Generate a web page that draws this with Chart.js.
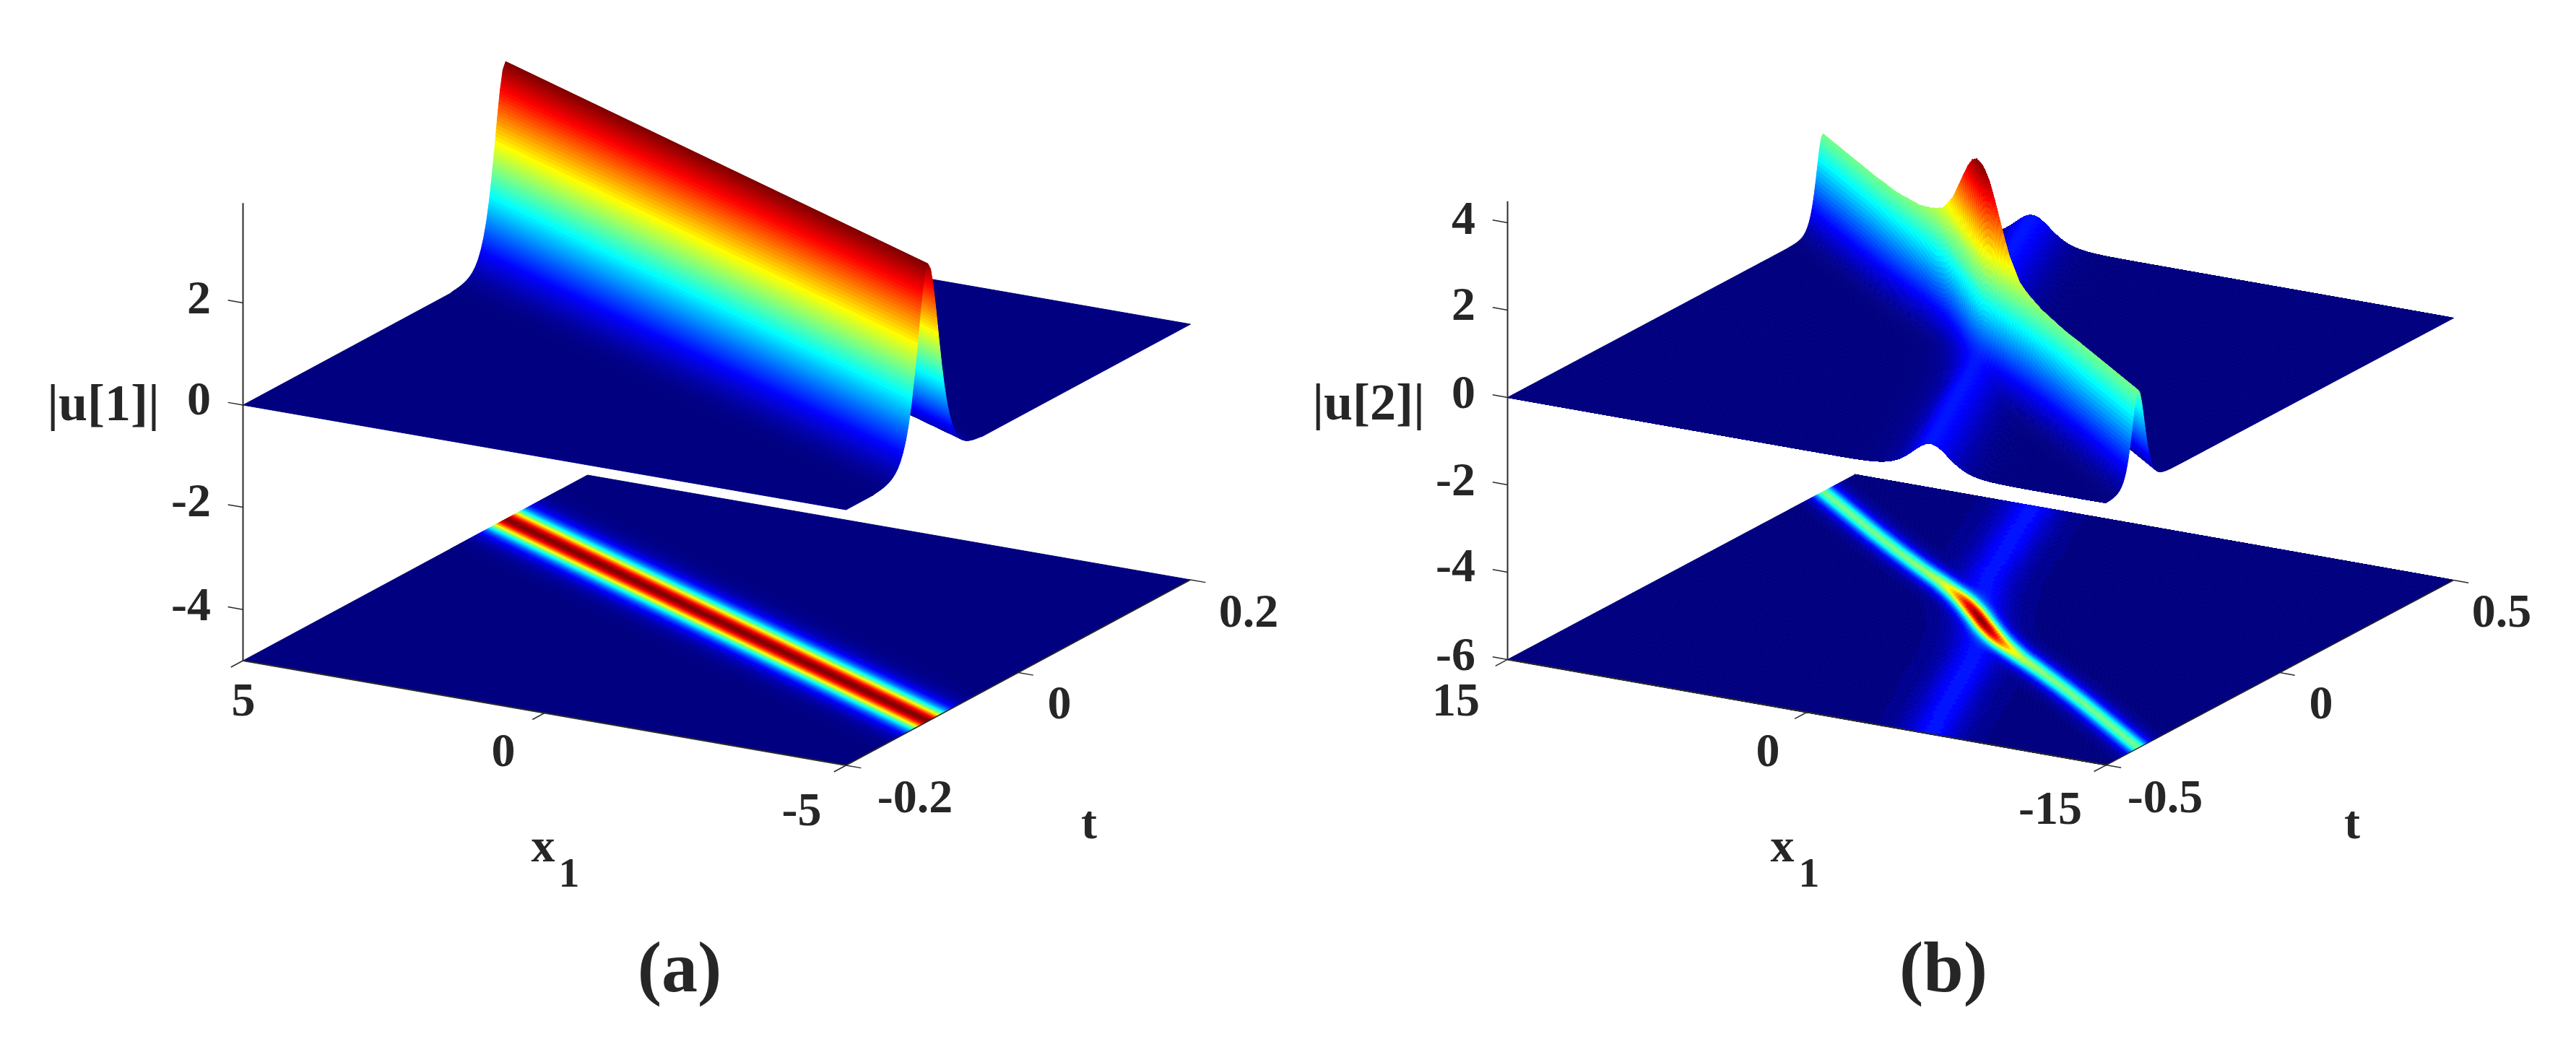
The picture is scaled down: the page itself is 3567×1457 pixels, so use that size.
<!DOCTYPE html>
<html><head><meta charset="utf-8">
<style>html,body{margin:0;background:#fff}canvas{position:absolute;top:0}</style>
<script src="https://cdn.jsdelivr.net/npm/chart.js@4"></script></head>
<body><canvas id="panelA" width="1784" height="1457" style="left:0"></canvas><canvas id="panelB" width="1783" height="1457" style="left:1784px"></canvas>
<script>
// ---- values ----
const xTicksA=[5,0,-5], tTicksA=[-0.2,0,0.2], zTicksA=[2,0,-2,-4];
const xTicksB=[15,0,-15], tTicksB=[-0.5,0,0.5], zTicksB=[4,2,0,-2,-4,-6];
// (a): height of the single ridge against offset from its crest line
const ridgeSlopeA=0.021;
const ridgeOffsetA=[-0.064,-0.0608,-0.0576,-0.0544,-0.0512,-0.048,-0.0448,-0.0416,-0.0384,-0.0352,-0.032,-0.0288,-0.0256,-0.0224,-0.0192,-0.016,-0.0128,-0.0096,-0.0064,-0.0032,0,0.0032,0.0064,0.0096,0.0128,0.016,0.0192,0.0224,0.0256,0.0288,0.032,0.0352,0.0384,0.0416,0.0448,0.048,0.0512,0.0544,0.0576,0.0608,0.064];
const ridgeHeightA=[0,0.013,0.019,0.028,0.041,0.059,0.085,0.123,0.177,0.254,0.365,0.52,0.73,1.01,1.38,1.84,2.37,2.94,3.45,3.82,3.95,3.82,3.45,2.94,2.37,1.84,1.38,1.01,0.73,0.52,0.365,0.254,0.177,0.123,0.085,0.059,0.041,0.028,0.019,0.013,0];
// (b): main ridge crest along x1
const ridgeSlopeB=0.0272;
const crestX=[15,10,8,6,5,4.5,4,3,2.5,2,1.5,1,0.5,0,-0.5,-1,-1.5,-2,-2.5,-3,-4,-4.5,-5,-6,-8,-10,-15];
const crestH=[2.2,2.2,2.21,2.3,2.42,2.5,2.6,3.05,3.4,3.75,4.05,4.28,4.4,4.44,4.4,4.28,4.05,3.75,3.4,3.05,2.6,2.5,2.42,2.3,2.21,2.2,2.2];
const crestShift=[0,0,0.002,0.006,0.009,0.011,0.012,0.013,0.013,0.012,0.01,0.007,0.004,0,-0.004,-0.007,-0.01,-0.012,-0.013,-0.013,-0.012,-0.011,-0.009,-0.006,-0.002,0,0];
const crestWidth=[0.025,0.025,0.025,0.025,0.025,0.025,0.025,0.025,0.025,0.025,0.025,0.025,0.025,0.025,0.025,0.025,0.025,0.025,0.025,0.025,0.025,0.025,0.025,0.025,0.025,0.025,0.025];
// (b): shape of a ridge across its crest, fraction of crest height at offset/width
const shapeU=[0,0.2,0.4,0.6,0.8,1,1.2,1.4,1.6,1.8,2,2.2,2.4,2.6,2.8,3,3.2,3.4,3.6,3.8,4,4.2,4.4,4.6,4.8,5];
const shapeF=[1,0.961,0.856,0.712,0.559,0.42,0.305,0.216,0.151,0.104,0.071,0.048,0.032,0.022,0.015,0.01,0.0066,0.0045,0.003,0.002,0.0013,0.0009,0.0006,0.0004,0.0002,0];
// (b): weak crossing ridge, its x1 position against t
const weakT=[-0.5,-0.3,-0.18,-0.1,0,0.1,0.18,0.3,0.5];
const weakX=[-6.2,-3.95,-2.65,-1.6,0,1.6,2.75,4.0,6.1];
const weakHeight=0.66, weakWidth=1.25;
const zMaxA=3.95, zMaxB=4.49;

// ---- view geometry (3D -> reference plane) ----
const viewA={cx:992.5,cy:859,xx:-83.5,xy:-14.5,tx:1192.5,ty:-642.5,kz:70.8,zFloor:-5,xMin:-5,xMax:5,tMin:-0.2,tMax:0.2,zMax:zMaxA,paneMin:0,paneMax:1784};
const viewB={cx:2742.5,cy:858.5,xx:-27.63,xy:-4.87,tx:481,ty:-256,kz:60.5,zFloor:-6,xMin:-15,xMax:15,tMin:-0.5,tMax:0.5,zMax:zMaxB,paneMin:1784,paneMax:3567};
const project=(v,x,t,z)=>({x:v.cx+x*v.xx+t*v.tx,y:v.cy+x*v.xy+t*v.ty-(z-v.zFloor)*v.kz});

function lin(xs,ys,q){
  const asc=xs[0]<xs[xs.length-1], n=xs.length;
  if(asc? q<=xs[0]:q>=xs[0])return ys[0];
  if(asc? q>=xs[n-1]:q<=xs[n-1])return ys[n-1];
  for(let i=1;i<n;i++){
    if(asc? q<=xs[i]:q>=xs[i]){const f=(q-xs[i-1])/(xs[i]-xs[i-1]);return ys[i-1]+f*(ys[i]-ys[i-1]);}
  }
  return ys[n-1];
}
const surfaceA=(x,t)=>lin(ridgeOffsetA,ridgeHeightA,t-ridgeSlopeA*x);
function surfaceB(x,t){
  const h=lin(crestX,crestH,x),d=lin(crestX,crestShift,x),w=lin(crestX,crestWidth,x);
  const m=h*lin(shapeU,shapeF,Math.abs(t-ridgeSlopeB*x-d)/w);
  const k=weakHeight*lin(shapeU,shapeF,Math.abs(x-lin(weakT,weakX,t))/weakWidth);
  return Math.sqrt(m*m+k*k);
}
// the sampling lattice of the drawn surface: columns along x1, rows along the ridge offset
function lattice(from,to,step){const a=[];for(let v=from;v>to+1e-9;v-=step)a.push(v);a.push(to);return a;}
function buildMesh(v,field,slope,xs,offs,floor,levels){
  const pts=[],zs=[];
  for(const o of offs)for(const x of xs){
    const t=Math.min(v.tMax,Math.max(v.tMin,o+slope*x));
    const z=field(x,t);
    zs.push(z);
    pts.push(project(v,x,t,floor?v.zFloor:z));
  }
  return {label:floor?'projection':'surface',data:pts,mesh:{z:zs,rows:offs.length,cols:xs.length,zMax:v.zMax,levels},pointRadius:0,showLine:false,parsing:false};
}
function jetLevel(val,levels){
  const n=levels-1,i=Math.min(n,Math.max(0,Math.round(val*n))),c=i/n;
  const f=s=>Math.round(255*Math.min(1,Math.max(0,1.5-Math.abs(4*c-s))));
  return `rgb(${f(3)},${f(2)},${f(1)})`;
}
const surfacePainter={id:'surfacePainter',
  beforeDatasetDraw(chart,{index,meta}){
    const ds=chart.data.datasets[index]; if(!ds.mesh)return;
    const {z,rows,cols,zMax,levels}=ds.mesh,p=meta.data,ctx=chart.ctx;
    ctx.save();ctx.lineWidth=1;ctx.lineJoin='round';
    for(let r=0;r<rows-1;r++)for(let c=0;c<cols-1;c++){
      const a=r*cols+c,b=a+1,e=a+cols,f=e+1;
      const col=jetLevel((z[a]+z[b]+z[e]+z[f])/4/zMax,levels);
      ctx.fillStyle=col;ctx.strokeStyle=col;
      ctx.beginPath();ctx.moveTo(p[a].x,p[a].y);ctx.lineTo(p[b].x,p[b].y);ctx.lineTo(p[f].x,p[f].y);ctx.lineTo(p[e].x,p[e].y);ctx.closePath();
      ctx.fill();ctx.stroke();
    }
    ctx.restore();
  }};
const textPainter={id:'textPainter',
  afterDraw(chart){
    const ctx=chart.ctx,sx=chart.scales.x,sy=chart.scales.y;
    ctx.save();ctx.fillStyle='#262626';ctx.textBaseline='middle';
    for(const [s,x,y,size,align] of chart.options.plugins.textPainter.items){
      ctx.font=`bold ${size}px "Liberation Serif"`;ctx.textAlign=align||'center';
      ctx.fillText(s,sx.getPixelForValue(x),sy.getPixelForValue(y));
    }
    ctx.restore();
  }};
function seg(a,b,w){return {data:[a,b],showLine:true,borderColor:'#2b2b2b',borderWidth:w,pointRadius:0,parsing:false,fill:false};}
function axesOf(v,xT,tT,zT){
  const out=[],tl=v.tMax-v.tMin,xl=v.xMax-v.xMin;
  out.push(seg(project(v,v.xMax,v.tMin,v.zFloor),project(v,v.xMin,v.tMin,v.zFloor),2));
  out.push(seg(project(v,v.xMin,v.tMin,v.zFloor),project(v,v.xMin,v.tMax,v.zFloor),1.5));
  out.push(seg(project(v,v.xMax,v.tMin,v.zFloor),project(v,v.xMax,v.tMin,v.zMax),2));
  for(const x of xT)out.push(seg(project(v,x,v.tMin,v.zFloor),project(v,x,v.tMin-0.035*tl,v.zFloor),1.5));
  for(const t of tT)out.push(seg(project(v,v.xMin,t,v.zFloor),project(v,v.xMin-0.025*xl,t,v.zFloor),1.5));
  for(const z of zT)out.push(seg(project(v,v.xMax,v.tMin,z),project(v,v.xMax+0.025*xl,v.tMin,z),1.5));
  return out;
}
function makeChart(id,v,sets,items){
  return new Chart(document.getElementById(id),{type:'scatter',
    data:{datasets:sets},
    options:{responsive:false,animation:false,events:[],layout:{padding:0},
      scales:{x:{type:'linear',display:false,min:v.paneMin,max:v.paneMax},y:{type:'linear',display:false,reverse:true,min:0,max:1457}},
      plugins:{legend:{display:false},tooltip:{enabled:false},title:{display:false},textPainter:{items}}},
    plugins:[surfacePainter,textPainter]});
}
const T=66;
const xsA=[5,-5], offsA=[0.5].concat(lattice(0.064,-0.064,0.0004),[-0.5]);
makeChart('panelA',viewA,[...axesOf(viewA,xTicksA,tTicksA,zTicksA),
  buildMesh(viewA,surfaceA,ridgeSlopeA,xsA,offsA,false,512),buildMesh(viewA,surfaceA,ridgeSlopeA,xsA,offsA,true,128)],
 [['2',292,417,T,'right'],['0',292,557,T,'right'],['-2',292,698,T,'right'],['-4',292,842,T,'right'],
  ['|u[1]|',143,563,72],
  ['5',337,974,T],['0',697,1044,T],['-5',1110,1126,T],
  ['-0.2',1267,1108,T],['0',1467,978,T],['0.2',1729,851,T],
  ['t',1508,1144,T],['x',752,1176,T],['1',788,1213,58],['(a)',941,1347,100]]);
const xsB=lattice(15,-15,0.25), offsB=[].concat(lattice(0.92,0.108,0.008),lattice(0.1,-0.1,0.0015),lattice(-0.108,-0.92,0.008));
makeChart('panelB',viewB,[...axesOf(viewB,xTicksB,tTicksB,zTicksB),
  buildMesh(viewB,surfaceB,ridgeSlopeB,xsB,offsB,false,512),buildMesh(viewB,surfaceB,ridgeSlopeB,xsB,offsB,true,64)],
 [['4',2043,307,T,'right'],['2',2043,426,T,'right'],['0',2043,548,T,'right'],['-2',2043,669,T,'right'],['-4',2043,788,T,'right'],['-6',2043,911,T,'right'],
  ['|u[2]|',1895,562,72],
  ['15',2016,974,T],['0',2448,1044,T],['-15',2839,1124,T],
  ['-0.5',2998,1108,T],['0',3214,978,T],['0.5',3464,851,T],
  ['t',3257,1144,T],['x',2468,1176,T],['1',2505,1213,58],['(b)',2691,1347,100]]);
</script></body></html>
